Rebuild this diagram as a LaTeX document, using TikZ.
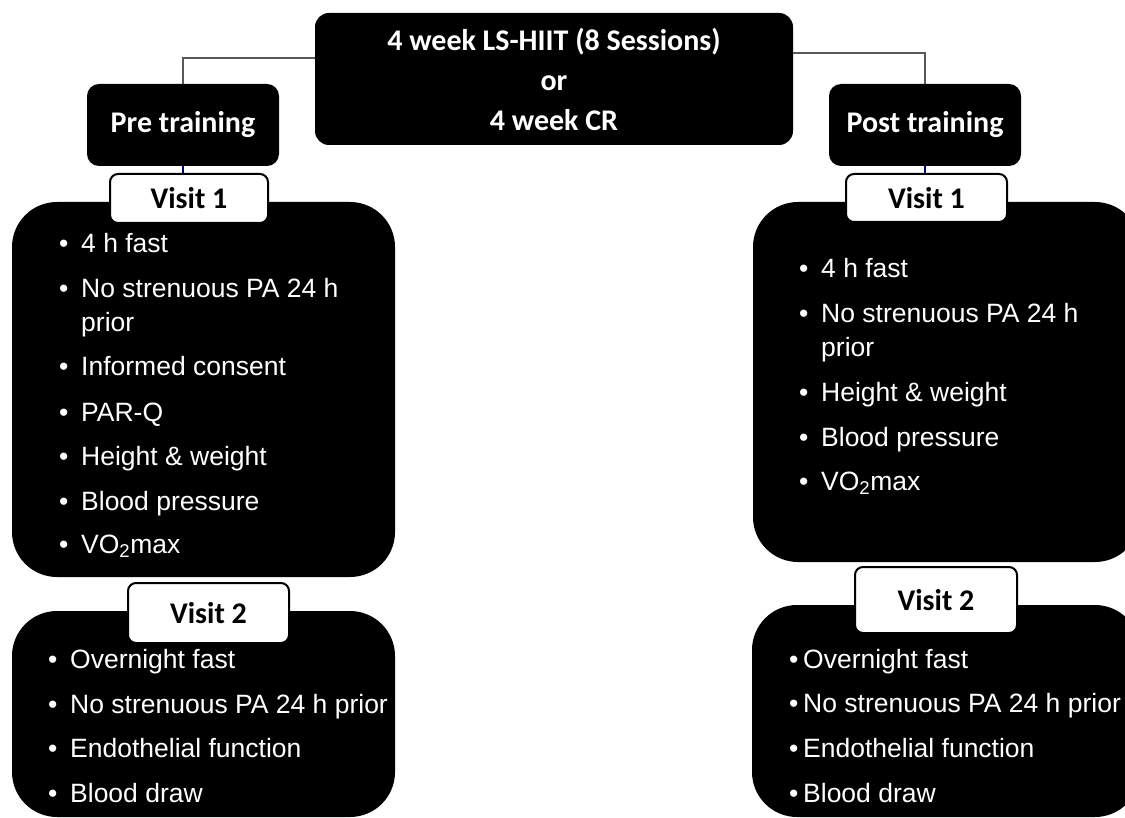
\documentclass[tikz,border=0pt]{standalone}
\usepackage{fontspec}
\setmainfont{Liberation Sans}
\newfontfamily\headfont{Carlito}
\usetikzlibrary{positioning}

\newcommand{\bul}[1][22pt]{\makebox[#1][l]{\textbullet}}

\tikzset{
	headbox/.style={fill=black, text=white, rounded corners=14pt, inner sep=0pt,
			align=center, font=\headfont\bfseries\fontsize{30}{40}\selectfont},
	visitlabel/.style={fill=white, draw=black, line width=2pt, rounded corners=8pt,
			inner sep=0pt, font=\headfont\bfseries\fontsize{30}{36}\selectfont},
	listbox/.style={fill=black, rounded corners=45pt, inner sep=0pt},
	listline/.style={anchor=base west, inner sep=0pt, text=white,
			font=\fontsize{26.5}{34}\selectfont},
	link/.style={draw=black!65, line width=1.5pt}
}

\begin{document}
\begin{tikzpicture}[x=1pt, y=-1pt]

			\path[use as bounding box, clip] (0,0) rectangle (1125,818);

			% Programme and the two phases
			\node[headbox, minimum width=478pt, minimum height=132pt] (prog) at (554,79)
				{4 week LS-HIIT (8 Sessions)\\or\\4 week CR};
			\node[headbox, rounded corners=12pt, minimum width=192pt, minimum height=82pt] (pre) at (183,125) {Pre training};
			\node[headbox, rounded corners=12pt, minimum width=192pt, minimum height=82pt] (post) at (925,125) {Post training};

			% Black boxes of the visits
			\node[listbox, minimum width=383pt, minimum height=375pt] (preOne) at (203.5,389.5) {};
			\node[listbox, minimum width=383pt, minimum height=206pt] (preTwo) at (203.5,714) {};
			\node[listbox, minimum width=387pt, minimum height=360pt] (postOne) at (946.5,382) {};
			\node[listbox, minimum width=388pt, minimum height=212pt] (postTwo) at (946,711) {};

			% Visit labels
			\node[visitlabel, minimum width=158pt, minimum height=49pt] (preOneLbl) at (189,198.5) {Visit 1};
			\node[visitlabel, minimum width=161pt, minimum height=60pt] (preTwoLbl) at (208.5,613) {Visit 2};
			\node[visitlabel, minimum width=161pt, minimum height=48pt] (postOneLbl) at (926.5,198) {Visit 1};
			\node[visitlabel, minimum width=162pt, minimum height=66pt] (postTwoLbl) at (936,600) {Visit 2};

			% Connectors
			\draw[link] ([yshift=21pt]prog.west) -| (pre.north);
			\draw[link] ([yshift=26pt]prog.east) -| (post.north);
			\draw[link, draw=blue!40!black] (pre.south) -- (pre.south |- preOneLbl.north);
			\draw[link, draw=blue!40!black] (post.south) -- (post.south |- postOneLbl.north);

			% Pre training, visit 1
			\foreach \y/\t [count=\i] in {253/4 h fast, 298/No strenuous PA 24 h, 376/Informed consent,
					421/PAR-Q, 465/Height \& weight, 510/Blood pressure, 553/VO\textsubscript{2}max}
				\node[listline] (preOne-\i) at (59,\y) {\bul\t};
			\node[listline] (preOne-wrap) at (81,332) {prior};

			% Pre training, visit 2
			\foreach \y/\t [count=\i] in {668/Overnight fast, 713/No strenuous PA 24 h prior,
					757/Endothelial function, 802/Blood draw}
				\node[listline] (preTwo-\i) at (48,\y) {\bul\t};

			% Post training, visit 1
			\foreach \y/\t [count=\i] in {278/4 h fast, 323/No strenuous PA 24 h, 402/Height \& weight,
					446/Blood pressure, 490/VO\textsubscript{2}max}
				\node[listline] (postOne-\i) at (799,\y) {\bul\t};
			\node[listline] (postOne-wrap) at (821,357) {prior};

			% Post training, visit 2
			\foreach \y/\t [count=\i] in {668/Overnight fast, 712/No strenuous PA 24 h prior,
					757/Endothelial function, 802/Blood draw}
				\node[listline] (postTwo-\i) at (789,\y) {\bul[14pt]\t};

		\end{tikzpicture}
\end{document}
